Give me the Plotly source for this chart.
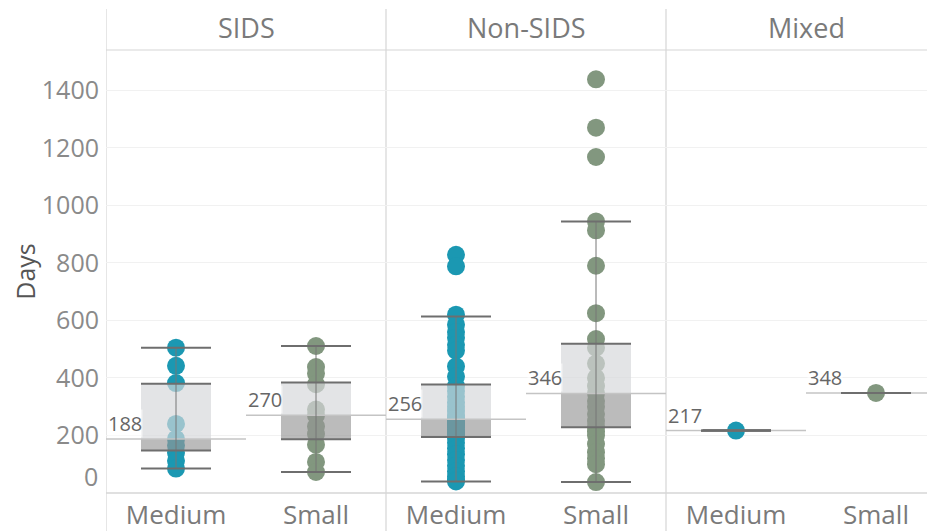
import plotly.graph_objects as go

# ---------------- data ----------------
panels = ["SIDS", "Non-SIDS", "Mixed"]
sizes = ["Medium", "Small"]

sids_medium = [505, 442, 382, 240, 188, 165, 140, 112, 85]
sids_small = [511, 438, 415, 378, 290, 270, 232, 205, 168, 108, 73]
nonsids_medium = [828, 788, 620, 585, 560, 540, 515, 495, 440, 405, 372, 355, 335,
                  315, 300, 285, 270, 262, 256, 250, 244, 236, 228, 220, 212, 205,
                  198, 192, 175, 155, 135, 115, 95, 75, 58, 45, 40]
nonsids_small = [1438, 1270, 1168, 944, 913, 790, 625, 535, 505, 450, 400, 372, 346,
                 320, 300, 275, 250, 232, 215, 200, 170, 142, 120, 100, 38]
mixed_medium = [217]
mixed_small = [348]

# box statistics per cell (SIDS-Medium, SIDS-Small, Non-SIDS-Medium, Non-SIDS-Small, Mixed-Medium, Mixed-Small)
lower_whisker = [85, 73, 40, 38, 217, 348]
q1 = [148, 187, 195, 229, 217, 348]
median = [188, 270, 256, 346, 217, 348]
q3 = [380, 384, 377, 519, 217, 348]
upper_whisker = [505, 511, 614, 944, 217, 348]

y_ticks = [200, 400, 600, 800, 1000, 1200, 1400]

cells = [sids_medium, sids_small, nonsids_medium, nonsids_small, mixed_medium, mixed_small]

# ---------------- styling ----------------
FONT = "Open Sans"
size_colors = {"Medium": "#1b98b2", "Small": "#82977f"}
UPPER_BOX = "rgba(214,215,218,0.68)"
LOWER_BOX = "rgba(150,150,150,0.65)"
EDGE = "#6e6e6e"
HALF = 0.25

fig = go.Figure()

positions = []
for p_i, panel in enumerate(panels):
    for s_i, size in enumerate(sizes):
        positions.append((p_i * 2 + s_i, size))

# points
for (pos, size), vals in zip(positions, cells):
    fig.add_trace(go.Scatter(
        x=[pos] * len(vals), y=vals, mode="markers",
        marker=dict(size=18, color=size_colors[size], line=dict(width=0)),
        hoverinfo="skip", showlegend=False))

# boxes
for i, (pos, size) in enumerate(positions):
    if q3[i] > q1[i]:
        # lower part (q1 -> median)
        fig.add_trace(go.Scatter(
            x=[pos - HALF, pos + HALF, pos + HALF, pos - HALF, pos - HALF],
            y=[q1[i], q1[i], median[i], median[i], q1[i]],
            mode="lines", fill="toself", fillcolor=LOWER_BOX,
            line=dict(width=0), hoverinfo="skip", showlegend=False))
        # upper part (median -> q3)
        fig.add_trace(go.Scatter(
            x=[pos - HALF, pos + HALF, pos + HALF, pos - HALF, pos - HALF],
            y=[median[i], median[i], q3[i], q3[i], median[i]],
            mode="lines", fill="toself", fillcolor=UPPER_BOX,
            line=dict(width=0), hoverinfo="skip", showlegend=False))
    # median reference line across the cell
    fig.add_trace(go.Scatter(
        x=[pos - 0.5, pos + 0.5], y=[median[i], median[i]], mode="lines",
        line=dict(color="#c4c4c4", width=1.5), hoverinfo="skip", showlegend=False))
    # vertical whisker line
    fig.add_trace(go.Scatter(
        x=[pos, pos], y=[lower_whisker[i], upper_whisker[i]], mode="lines",
        line=dict(color="#777777", width=1), hoverinfo="skip", showlegend=False))
    # horizontal edges: whisker caps and box edges
    for v in (lower_whisker[i], q1[i], q3[i], upper_whisker[i]):
        fig.add_trace(go.Scatter(
            x=[pos - HALF, pos + HALF], y=[v, v], mode="lines",
            line=dict(color=EDGE, width=2), hoverinfo="skip", showlegend=False))
    # median label
    fig.add_annotation(
        x=pos - 0.5, y=median[i], xref="x", yref="y", text=str(median[i]),
        showarrow=False, xanchor="left", yanchor="bottom", xshift=1, yshift=1,
        font=dict(family=FONT, size=20, color="#666666"),
        bgcolor="rgba(255,255,255,0.6)", borderpad=0)

# panel headers
for p_i, panel in enumerate(panels):
    fig.add_annotation(
        x=p_i * 2 + 0.5, y=1, xref="x", yref="paper", yanchor="bottom", yshift=2,
        text=panel, showarrow=False,
        font=dict(family=FONT, size=27, color="#7a7a7a"))

# "0" tick label (shifted up as in the original)
fig.add_annotation(
    x=0, xref="paper", y=0, yref="y", xanchor="right", xshift=-6, yshift=17,
    text="0", showarrow=False, font=dict(family=FONT, size=25, color="#8a8a8a"))

# page body has an 8px margin; compensate so the plot sits where the original does
M_L, M_R, M_T, M_B = 98, 0, 42, 46
plot_h = 531 - M_T - M_B
y_bottom_page = -(M_B - 8) / plot_h
y_top_page = 1 + (M_T - 1) / plot_h
for xb in (-0.5, 1.5, 3.5):
    fig.add_shape(type="line", xref="x", yref="paper", x0=xb, x1=xb,
                  y0=y_bottom_page, y1=y_top_page,
                  line=dict(color="#d6d6d6", width=1.2), layer="below")
fig.add_shape(type="line", xref="paper", yref="paper", x0=0, x1=1, y0=1, y1=1,
              line=dict(color="#d6d6d6", width=1.2), layer="below")
fig.add_shape(type="line", xref="paper", yref="paper", x0=0, x1=1, y0=0, y1=0,
              line=dict(color="#d6d6d6", width=1.5), layer="below")

plot_w = 935 - M_L - M_R
fig.update_layout(
    width=935, height=531,
    margin=dict(l=M_L, r=M_R, t=M_T, b=M_B, autoexpand=False),
    paper_bgcolor="white", plot_bgcolor="white",
    showlegend=False, hovermode=False,
    font=dict(family=FONT, color="#7a7a7a"),
)
fig.update_xaxes(
    range=[-0.5, -0.5 + plot_w / 140], tickmode="array",
    tickvals=[p for p, _ in positions], ticktext=[s for _, s in positions],
    tickfont=dict(family=FONT, size=26, color="#7a7a7a"),
    showgrid=False, zeroline=False, showline=False, ticks="",
    ticklabelstandoff=4, automargin=False, fixedrange=True)
fig.update_yaxes(
    range=[0, 1540], tickmode="array", tickvals=y_ticks,
    ticktext=[str(v) for v in y_ticks],
    tickfont=dict(family=FONT, size=25, color="#8a8a8a"),
    showgrid=True, gridcolor="#f1f1f1", gridwidth=1, zeroline=False,
    showline=False, ticks="", ticklabelstandoff=6, automargin=False,
    title=dict(text="Days", font=dict(family=FONT, size=25, color="#555555"), standoff=9),
    fixedrange=True)

fig.write_html("out.html")
